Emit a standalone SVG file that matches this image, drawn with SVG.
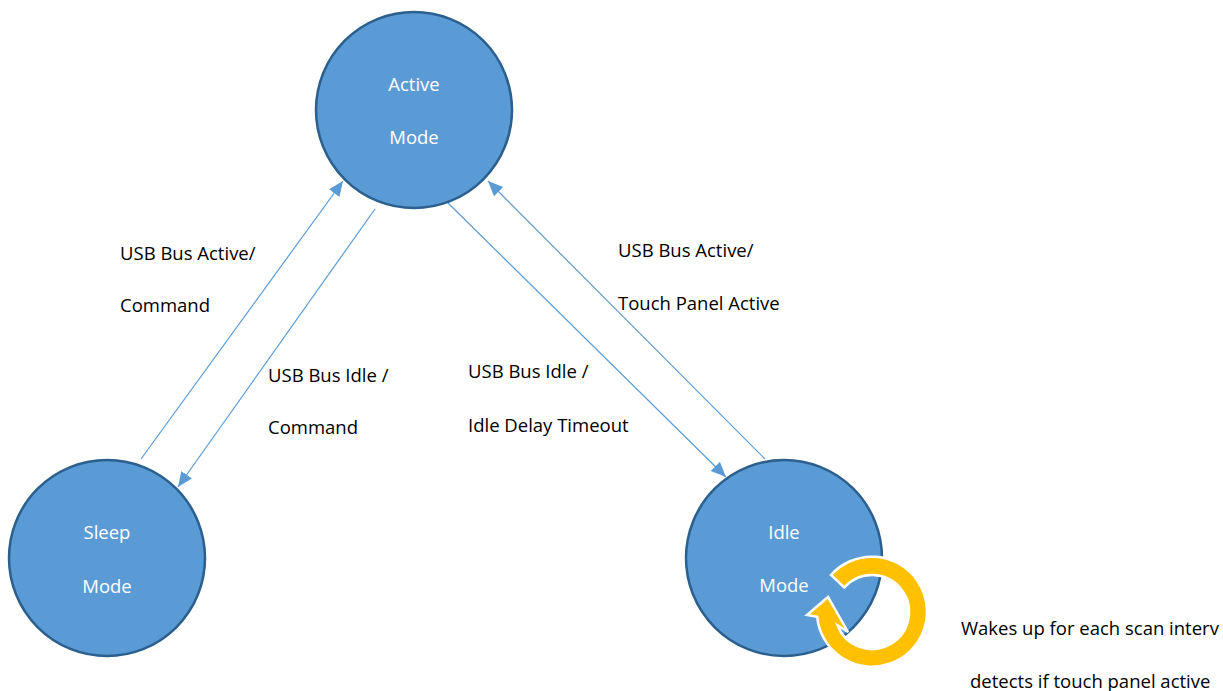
<svg xmlns="http://www.w3.org/2000/svg" width="1223" height="691" viewBox="0 0 1223 691">
<style>
.node{fill:#5B9BD5;stroke:#2B5F8E;stroke-width:2.5}
.nl{font-family:"Open Sans","Liberation Sans",sans-serif;font-size:18.5px;fill:#FFFFFF;text-anchor:middle}
.lbl{font-family:"Open Sans","Liberation Sans",sans-serif;font-size:18.5px;fill:#000000}
.edge{stroke:#5B9BD5;stroke-width:1.2;fill:none;marker-end:url(#ah)}
</style>
<defs>
<marker id="ah" markerUnits="userSpaceOnUse" markerWidth="16" markerHeight="14" refX="15" refY="6.5" orient="auto">
<path d="M0,0 L15,6.5 L0,13 Z" fill="#5B9BD5"/>
</marker>
</defs>
<rect width="1223" height="691" fill="#FFFFFF"/>
<g id="connectors">
<line class="edge" x1="141" y1="459" x2="343" y2="181"/>
<line class="edge" x1="375" y1="209" x2="178" y2="487"/>
<line class="edge" x1="448" y1="203" x2="726" y2="477"/>
<line class="edge" x1="765" y1="459" x2="488" y2="181"/>
</g>
<g id="active">
<circle class="node" cx="414" cy="110" r="98"/>
<text class="nl" x="414" y="91">Active</text>
<text class="nl" x="414" y="144">Mode</text>
</g>
<g id="sleep">
<circle class="node" cx="107" cy="558" r="98"/>
<text class="nl" x="107" y="539">Sleep</text>
<text class="nl" x="107" y="593">Mode</text>
</g>
<g id="idle">
<circle class="node" cx="784" cy="558" r="98"/>
<text class="nl" x="784" y="539">Idle</text>
<text class="nl" x="784" y="592">Mode</text>
</g>
<g id="self-loop">
<path d="M831,575 A55,55 0 1 1 817.2,616.8 L807,615 L828,597 L848,632 L837.5,625.3 A37,37 0 1 0 844.3,587.5 Z" fill="#FFC000" stroke="#FFFFFF" stroke-width="2.5" stroke-linejoin="miter"/>
</g>
<g id="labels">
<text class="lbl" x="120" y="260">USB Bus Active/</text>
<text class="lbl" x="120" y="312">Command</text>
<text class="lbl" x="268" y="382">USB Bus Idle /</text>
<text class="lbl" x="268" y="434">Command</text>
<text class="lbl" x="618" y="257">USB Bus Active/</text>
<text class="lbl" x="618" y="310">Touch Panel Active</text>
<text class="lbl" x="468" y="378">USB Bus Idle /</text>
<text class="lbl" x="468" y="432">Idle Delay Timeout</text>
<text class="lbl" x="961" y="635">Wakes up for each scan interv</text>
<text class="lbl" x="970" y="688">detects if touch panel active</text>
</g>
</svg>
